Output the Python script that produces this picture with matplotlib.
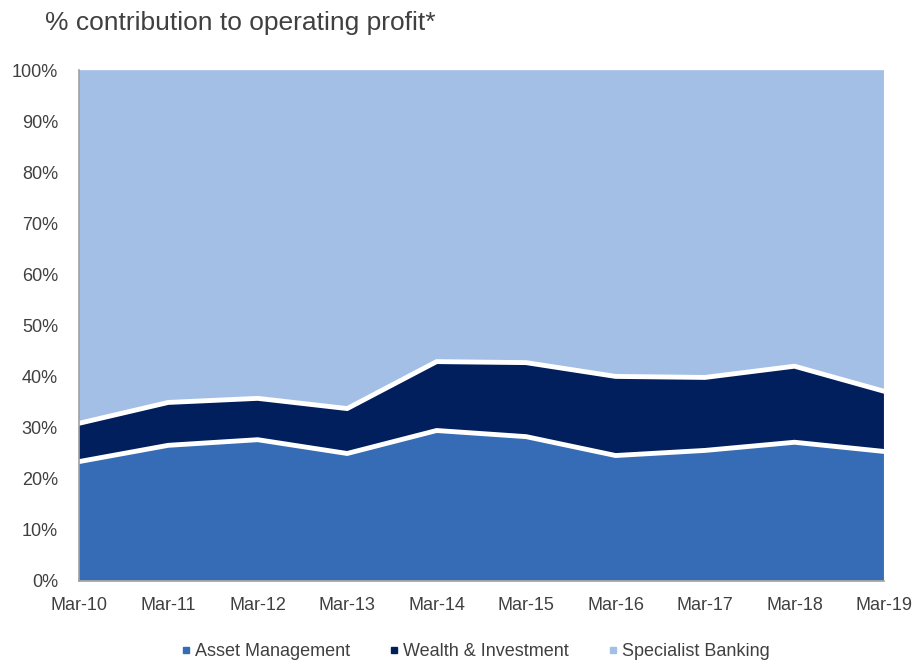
import matplotlib.pyplot as plt
import numpy as np

plt.rcParams['font.family'] = ['Liberation Sans', 'DejaVu Sans']

years = ['Mar-10', 'Mar-11', 'Mar-12', 'Mar-13', 'Mar-14',
         'Mar-15', 'Mar-16', 'Mar-17', 'Mar-18', 'Mar-19']
asset_mgmt = [23.3, 26.5, 27.6, 24.9, 29.4, 28.2, 24.5, 25.5, 27.1, 25.3]
wealth_inv = [7.5, 8.4, 8.1, 8.8, 13.5, 14.5, 15.5, 14.3, 14.9, 11.8]
specialist = [100 - a - w for a, w in zip(asset_mgmt, wealth_inv)]

labels = ['Asset Management', 'Wealth & Investment', 'Specialist Banking']
colors = ['#356CB5', '#001F5C', '#A3BFE5']
text_col = '#404040'

x = np.arange(len(years))
fig = plt.figure(figsize=(9.16, 6.62), dpi=100)
ax = fig.add_axes([0.086, 0.123, 0.879, 0.771])

# stacked areas, then white lines on the boundaries between them
ax.stackplot(x, asset_mgmt, wealth_inv, specialist, colors=colors,
             linewidth=0, labels=labels)
bound1 = np.array(asset_mgmt)
bound2 = bound1 + np.array(wealth_inv)
ax.plot(x, bound1, color='white', lw=3.5, solid_joinstyle='miter')
ax.plot(x, bound2, color='white', lw=3.5, solid_joinstyle='miter')

ax.set_xlim(0, len(years) - 1)
ax.set_ylim(0, 100)
ax.set_xticks(x)
ax.set_xticklabels(years)
ax.set_yticks(np.arange(0, 101, 10))
ax.set_yticklabels([f'{v}%' for v in range(0, 101, 10)])
ax.tick_params(length=0, labelsize=13, colors=text_col)
ax.tick_params(axis='x', pad=12)
ax.tick_params(axis='y', pad=15)
for s in ['top', 'right']:
    ax.spines[s].set_visible(False)
for s in ['left', 'bottom']:
    ax.spines[s].set_color('#A0A0A0')
    ax.spines[s].set_linewidth(1.2)

fig.text(0.049, 0.966, '% contribution to operating profit*', fontsize=19,
         color=text_col, ha='left', va='center')

handles = [plt.Line2D([], [], marker='s', linestyle='none', color=c,
                      markersize=4) for c in colors]
fig.legend(handles, labels, loc='center', bbox_to_anchor=(0.519, 0.016),
           ncol=3, frameon=False, fontsize=13, handletextpad=0.25,
           handlelength=0.5, columnspacing=2.2, labelcolor=text_col)

fig.savefig('out.png', dpi=100)
